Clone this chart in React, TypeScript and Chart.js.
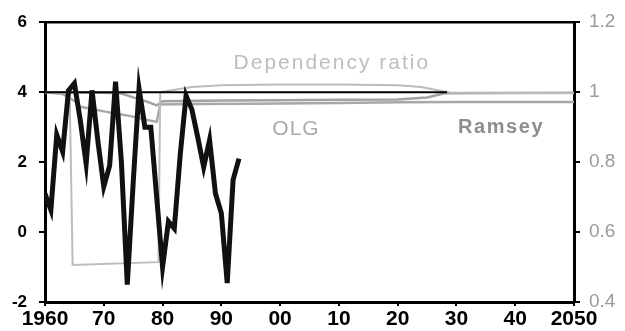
import React, { useEffect, useRef } from "react";
import { Chart, registerables } from "chart.js";
Chart.register(...registerables);

// Growth (left axis, %)
const growthYears = [1960, 1961, 1962, 1963, 1964, 1965, 1966, 1967, 1968, 1969, 1970, 1971, 1972, 1973, 1974, 1975, 1976, 1977, 1978, 1979, 1980, 1981, 1982, 1983, 1984, 1985, 1986, 1987, 1988, 1989, 1990, 1991, 1992, 1993];
const growthValues = [1.1, 0.63, 2.78, 2.3, 4.05, 4.25, 3.2, 1.95, 4.05, 2.6, 1.3, 1.9, 4.3, 2.0, -1.5, 1.4, 4.1, 3.0, 3.0, 1.0, -1.0, 0.3, 0.1, 2.2, 3.9, 3.5, 2.7, 1.86, 2.63, 1.1, 0.54, -1.46, 1.49, 2.1];

// Dependency ratio (right axis)
const depYears = [1960, 1964.2, 1964.7, 1979.3, 1979.6, 1985, 1990, 2000, 2010, 2020, 2024, 2027, 2029, 2050];
const depValues = [1.0, 0.995, 0.506, 0.514, 1.0, 1.015, 1.02, 1.022, 1.022, 1.02, 1.015, 1.005, 0.999, 0.997];

// OLG model (right axis)
const olgYears = [1960, 1965, 1970, 1973, 1975, 1977, 1979, 1980, 1990, 2000, 2010, 2020, 2025, 2028, 2050];
const olgValues = [1.0, 0.999, 0.998, 0.996, 0.985, 0.975, 0.962, 0.974, 0.976, 0.977, 0.978, 0.979, 0.985, 0.997, 0.998];

// Ramsey model (right axis)
const ramseyYears = [1960, 1963, 1965, 1966, 1968, 1970, 1973, 1975, 1977, 1979, 1979.6, 1985, 1995, 2010, 2020, 2030, 2050];
const ramseyValues = [1.0, 0.995, 0.975, 0.958, 0.952, 0.945, 0.936, 0.93, 0.922, 0.915, 0.965, 0.966, 0.967, 0.969, 0.971, 0.972, 0.972];

// Reference line (right axis = 1)
const refYears = [1960, 2028.4];
const refValues = [1.0, 1.0];

const xTickValues = [1960, 1970, 1980, 1990, 2000, 2010, 2020, 2030, 2040, 2050];
const xTickLabels = ["1960", "70", "80", "90", "00", "10", "20", "30", "40", "2050"];
const leftTickValues = [-2, 0, 2, 4, 6];
const leftTickLabels = ["-2", "0", "2", "4", "6"];
const rightTickValues = [0.4, 0.6, 0.8, 1.0, 1.2];
const rightTickLabels = ["0.4", "0.6", "0.8", "1", "1.2"];

const FONT = "'Liberation Sans', Arial, Helvetica, sans-serif";

const pts = (xs: number[], ys: number[]) => xs.map((x, i) => ({ x, y: ys[i] }));

const labelItems = [
  { text: "Dependency ratio", year: 2008.8, value: 1.083, color: "#bdbdbd", font: `21px ${FONT}`, spacing: "2px" },
  { text: "OLG", year: 2002.7, value: 0.893, color: "#ababab", font: `21px ${FONT}`, spacing: "1px" },
  { text: "Ramsey", year: 2037.6, value: 0.9, color: "#8e8e8e", font: `bold 20px ${FONT}`, spacing: "1.6px" },
];

const framePlugin = {
  id: "frame",
  afterDraw(chart: any) {
    const { ctx, chartArea: a, scales } = chart;
    ctx.save();
    ctx.strokeStyle = "#000";
    ctx.lineWidth = 2.5;
    ctx.beginPath();
    ctx.moveTo(a.left, a.top);
    ctx.lineTo(a.right, a.top);
    ctx.stroke();
    for (const l of labelItems) {
      ctx.font = l.font;
      ctx.fillStyle = l.color;
      (ctx as any).letterSpacing = l.spacing;
      ctx.textAlign = "center";
      ctx.textBaseline = "middle";
      ctx.fillText(l.text, scales.x.getPixelForValue(l.year), scales.y1.getPixelForValue(l.value));
    }
    ctx.restore();
  },
};

export default function App() {
  const ref = useRef<HTMLCanvasElement>(null);
  useEffect(() => {
    if (!ref.current) return;
    const chart = new Chart(ref.current, {
      type: "line",
      data: {
        datasets: [
          { data: pts(growthYears, growthValues), yAxisID: "y", borderColor: "#111", borderWidth: 5, pointRadius: 0, borderJoinStyle: "miter", tension: 0, order: 0 },
          { data: pts(refYears, refValues), yAxisID: "y1", borderColor: "#000", borderWidth: 2, pointRadius: 0, order: 1 },
          { data: pts(depYears, depValues), yAxisID: "y1", borderColor: "#bcbcbc", borderWidth: 2, pointRadius: 0, order: 2 },
          { data: pts(olgYears, olgValues), yAxisID: "y1", borderColor: "#a2a2a2", borderWidth: 2.5, pointRadius: 0, order: 3 },
          { data: pts(ramseyYears, ramseyValues), yAxisID: "y1", borderColor: "#a8a8a8", borderWidth: 2.5, pointRadius: 0, order: 4 },
        ],
      },
      options: {
        animation: false,
        responsive: false,
        maintainAspectRatio: false,
        layout: { padding: { top: 22, left: 0, right: 0, bottom: 0 } },
        plugins: { legend: { display: false }, tooltip: { enabled: false } },
        scales: {
          x: {
            type: "linear",
            min: 1960,
            max: 2050,
            afterFit: (s: any) => { s.height = 29; },
            afterBuildTicks: (s: any) => { s.ticks = xTickValues.map((v) => ({ value: v })); },
            border: { display: true, color: "#000", width: 3 },
            grid: { drawOnChartArea: false, drawTicks: true, tickLength: 4, color: "#000", lineWidth: 2 },
            ticks: {
              autoSkip: false,
              maxRotation: 0,
              minRotation: 0,
              padding: 1,
              color: "#000",
              font: { family: FONT, size: 21, weight: "bold" },
              callback: (v: any) => { const i = xTickValues.indexOf(Number(v)); return i >= 0 ? xTickLabels[i] : ""; },
            },
          },
          y: {
            position: "left",
            min: -2,
            max: 6,
            afterFit: (s: any) => { s.width = 45; },
            afterBuildTicks: (s: any) => { s.ticks = leftTickValues.map((v) => ({ value: v })); },
            border: { display: true, color: "#000", width: 3 },
            grid: { drawOnChartArea: false, drawTicks: true, tickLength: 6, color: "#000", lineWidth: 2 },
            ticks: {
              padding: 12,
              color: "#000",
              font: { family: FONT, size: 17, weight: "bold" },
              callback: (_v: any, i: number) => leftTickLabels[i],
            },
          },
          y1: {
            position: "right",
            min: 0.4,
            max: 1.2,
            afterFit: (s: any) => { s.width = 51; },
            afterBuildTicks: (s: any) => { s.ticks = rightTickValues.map((v) => ({ value: v })); },
            border: { display: true, color: "#000", width: 3 },
            grid: { drawOnChartArea: false, drawTicks: true, tickLength: 6, color: "#000", lineWidth: 2 },
            ticks: {
              padding: 9,
              color: "#9a9a9a",
              font: { family: FONT, size: 19 },
              callback: (_v: any, i: number) => rightTickLabels[i],
            },
          },
        },
      },
      plugins: [framePlugin],
    } as any);
    return () => chart.destroy();
  }, []);
  return (
    <div style={{ position: "absolute", left: 0, top: 0, width: 625, height: 331, background: "#fff" }}>
      <canvas ref={ref} width={625} height={331} />
    </div>
  );
}
